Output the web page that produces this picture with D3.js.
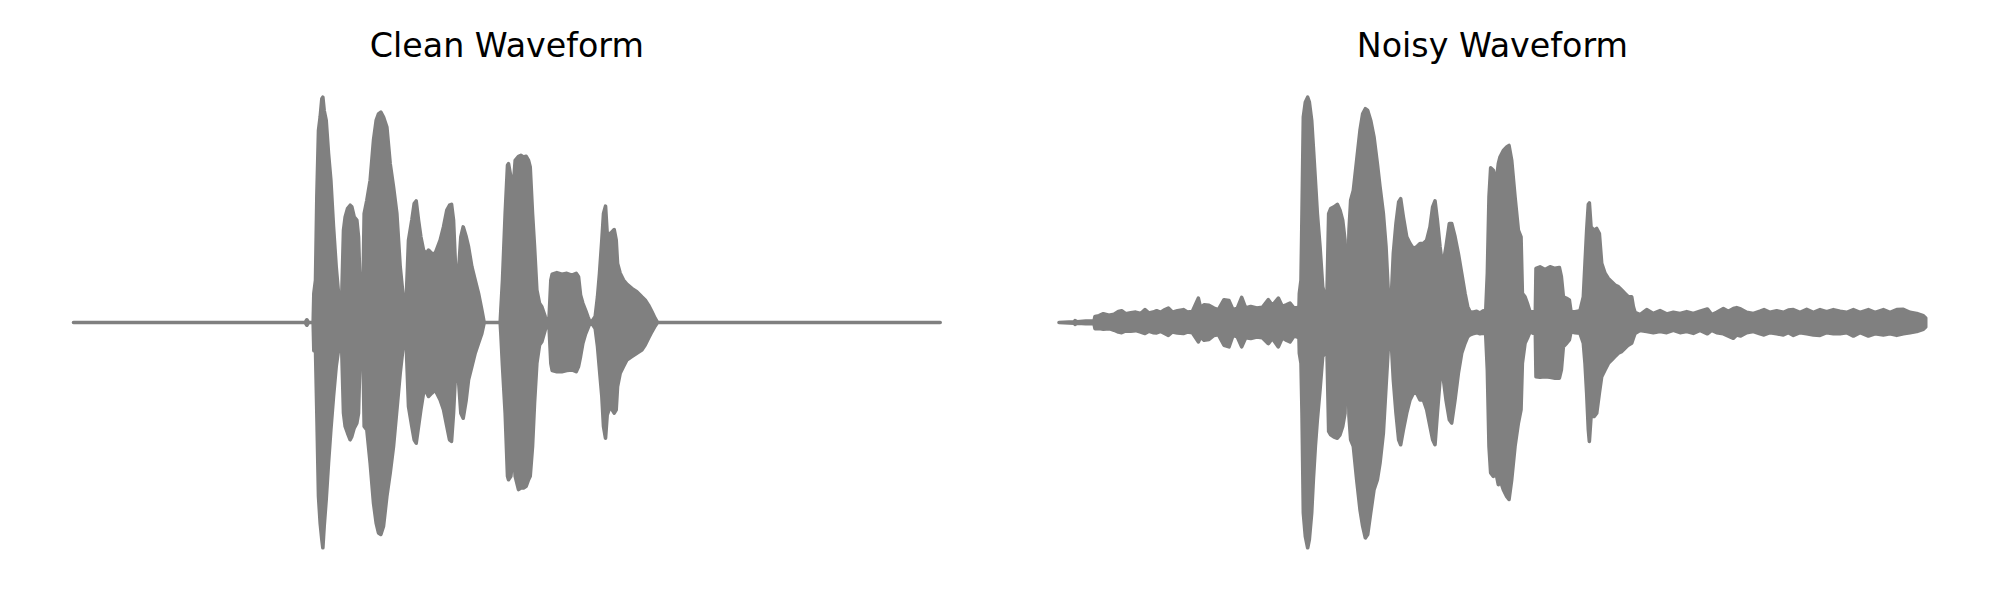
<!DOCTYPE html>
<html><head><meta charset="utf-8">
<script src="https://cdn.jsdelivr.net/npm/d3@7"></script>
<style>html,body{margin:0;padding:0;background:#fff;} svg{display:block;}</style>
</head><body>
<svg id="chart" width="2000" height="600"></svg>
<script>
// ---- data (time in ms, amplitude normalised to peak = 1) ----
const titles = ["Clean Waveform", "Noisy Waveform"];
const timeExtent = [0, 2600];
const ampExtent = [-1, 1];

const cleanTime = [0,695,700,705,719,721,726,730,735,740,745,748,752,758,765,772,780,788,795,800,
  805,810,815,822,830,835,842,850,855,859,863,868,872,880,890,900,908,915,922,930,940,950,960,970,980,990,995,
  998,1005,1015,1022,1028,1035,1042,1050,1058,1065,1075,1085,1100,1110,1120,1128,1134,1140,1146,1155,1162,1169,1178,1185,1195,1205,1215,1225,1232,
  1280,1282,1287,1295,1302,1305,1312,1320,1325,1335,1342,1350,1358,1365,1370,1377,1383,1390,1398,1405,1415,1423,
  1426,1432,1436,1450,1465,1480,1495,1508,1515,1521,1528,1536,1543,1550,
  1558,1565,1572,1578,1585,1590,1596,1601,1610,1622,1628,1632,1640,1650,1660,1675,1690,1705,1715,1725,1735,1745,1752,2600];
const cleanUpper = [0,0,0.012,0,0,0.129,0.188,0.557,0.852,0.911,0.992,0.999,0.940,0.896,0.749,0.631,0.424,0.247,0.129,0.107,
  0.129,0.409,0.468,0.505,0.520,0.513,0.468,0.454,0.380,0.188,0.100,0.114,0.483,0.542,0.631,0.808,0.896,0.925,0.933,0.911,0.867,0.704,0.601,0.483,0.247,0.100,0.055,
  0.100,0.365,0.454,0.527,0.539,0.454,0.380,0.321,0.306,0.321,0.306,0.306,0.365,0.424,0.498,0.520,0.524,0.454,0.247,0.225,0.380,0.424,0.380,0.336,0.247,0.188,0.129,0.055,0,
  0,0.055,0.188,0.483,0.697,0.704,0.645,0.616,0.719,0.737,0.741,0.734,0.737,0.719,0.690,0.483,0.336,0.144,0.085,0.070,0.026,0,
  0,0.188,0.214,0.221,0.214,0.218,0.210,0.218,0.203,0.122,0.085,0.055,0.026,0,
  0.011,0.026,0.114,0.218,0.365,0.483,0.516,0.394,0.394,0.412,0.365,0.262,0.218,0.188,0.170,0.151,0.136,0.114,0.100,0.077,0.048,0.018,0,0];
const cleanLower = [0,0,-0.012,0,0,-0.125,-0.122,-0.402,-0.771,-0.889,-0.962,-0.999,-0.903,-0.785,-0.623,-0.476,-0.328,-0.195,-0.122,-0.107,
  -0.136,-0.402,-0.461,-0.490,-0.520,-0.505,-0.468,-0.446,-0.402,-0.181,-0.092,-0.107,-0.461,-0.476,-0.623,-0.800,-0.889,-0.933,-0.940,-0.903,-0.771,-0.667,-0.549,-0.387,-0.225,-0.092,-0.063,
  -0.092,-0.372,-0.461,-0.520,-0.535,-0.461,-0.387,-0.313,-0.306,-0.328,-0.313,-0.299,-0.343,-0.387,-0.461,-0.520,-0.527,-0.402,-0.225,-0.254,-0.402,-0.424,-0.343,-0.254,-0.195,-0.136,-0.092,-0.048,0,
  0,-0.048,-0.195,-0.402,-0.682,-0.697,-0.682,-0.564,-0.682,-0.741,-0.734,-0.734,-0.726,-0.697,-0.682,-0.549,-0.358,-0.181,-0.100,-0.085,-0.033,0,
  0,-0.181,-0.213,-0.218,-0.218,-0.213,-0.210,-0.218,-0.195,-0.151,-0.092,-0.051,-0.026,0,
  -0.011,-0.026,-0.107,-0.210,-0.328,-0.461,-0.513,-0.410,-0.372,-0.402,-0.387,-0.284,-0.225,-0.195,-0.166,-0.151,-0.136,-0.122,-0.100,-0.070,-0.041,-0.015,0,0];

const noisyTime = [0,45,48,55,80,105,108,120,133,150,165,178,188,200,215,230,245,258,270,282,293,305,318,328,340,355,373,385,400,
  418,425,435,450,465,478,495,510,522,535,548,560,575,593,610,628,640,658,670,683,693,705,715,720,
  721,726,729,733,739,746,751,758,763,769,775,783,791,798,804,
  809,815,825,835,843,851,858,862,866,
  870,875,883,893,903,911,919,926,935,945,955,963,973,981,988,993,997,
  1003,1011,1019,1025,1033,1043,1053,1063,1073,1083,1093,1103,1113,1121,1128,1135,1143,1151,1161,1171,1178,1188,1198,1208,1218,1226,1233,
  1241,1253,1263,1273,1280,
  1285,1290,1295,1303,1311,1318,1323,1333,1343,1350,1358,1368,1378,1386,1390,1398,1405,1413,1423,1429,
  1431,1443,1458,1473,1488,1501,1507,1513,1523,1531,1536,1548,1563,
  1573,1578,1583,1588,1591,1596,1605,1613,1621,1628,1638,1648,1658,1668,1678,1688,1698,1708,1718,1723,1728,
  1743,1763,1783,1803,1823,1843,1863,1883,1903,1923,1945,1958,1973,1993,2008,2023,2033,2045,2063,2083,2103,2115,2133,2153,2173,2188,2203,
  2223,2243,2263,2283,2303,2323,2343,2363,2383,2403,2428,2448,2473,2493,2513,2533,2553,2573,2593,2600];
const noisyUpper = [0,0.003,0.008,0.003,0.006,0.006,0.027,0.030,0.039,0.032,0.037,0.049,0.052,0.039,0.043,0.046,0.040,0.057,0.042,0.046,0.052,0.045,0.057,0.064,0.046,0.052,0.057,0.046,0.049,
  0.108,0.064,0.079,0.076,0.064,0.057,0.101,0.097,0.057,0.064,0.111,0.064,0.071,0.064,0.067,0.101,0.076,0.108,0.071,0.079,0.086,0.064,0.067,0.070,
  0.129,0.188,0.483,0.911,0.977,0.999,0.977,0.896,0.778,0.631,0.483,0.336,0.159,0.114,0.129,
  0.483,0.505,0.513,0.524,0.498,0.454,0.365,0.129,0.114,
  0.409,0.542,0.586,0.719,0.852,0.925,0.948,0.940,0.896,0.822,0.704,0.601,0.483,0.336,0.129,0.100,0.114,
  0.306,0.439,0.535,0.549,0.468,0.380,0.350,0.328,0.336,0.350,0.350,0.365,0.424,0.513,0.539,0.454,0.336,0.247,0.336,0.439,0.439,0.380,0.306,0.218,0.129,0.070,0.048,
  0.045,0.050,0.042,0.052,0.045,
  0.217,0.557,0.686,0.675,0.616,0.704,0.734,0.763,0.778,0.785,0.719,0.557,0.409,0.380,0.129,0.114,0.085,0.048,0.048,0.048,
  0.240,0.247,0.235,0.247,0.240,0.244,0.203,0.114,0.107,0.100,0.048,0.048,0.052,
  0.114,0.262,0.409,0.524,0.530,0.424,0.409,0.417,0.394,0.262,0.218,0.195,0.181,0.166,0.159,0.144,0.129,0.114,0.114,0.070,0.045,
  0.035,0.057,0.040,0.053,0.038,0.045,0.040,0.048,0.040,0.050,0.060,0.035,0.045,0.062,0.050,0.062,0.066,0.060,0.045,0.040,0.050,0.057,0.045,0.052,0.045,0.055,0.057,
  0.045,0.058,0.045,0.057,0.048,0.057,0.050,0.045,0.057,0.045,0.057,0.045,0.057,0.045,0.057,0.058,0.045,0.040,0.030,0.020];
const noisyLower = [0,-0.003,-0.008,-0.003,-0.005,-0.005,-0.027,-0.027,-0.030,-0.027,-0.034,-0.042,-0.045,-0.037,-0.039,-0.036,-0.042,-0.049,-0.039,-0.045,-0.046,-0.039,-0.049,-0.057,-0.042,-0.046,-0.049,-0.042,-0.045,
  -0.086,-0.064,-0.079,-0.075,-0.057,-0.054,-0.101,-0.108,-0.057,-0.064,-0.108,-0.068,-0.071,-0.064,-0.068,-0.094,-0.071,-0.108,-0.068,-0.079,-0.086,-0.060,-0.064,-0.070,
  -0.136,-0.181,-0.402,-0.844,-0.948,-0.999,-0.962,-0.844,-0.697,-0.549,-0.431,-0.299,-0.151,-0.136,-0.129,
  -0.483,-0.498,-0.508,-0.513,-0.498,-0.461,-0.402,-0.151,-0.136,
  -0.417,-0.520,-0.549,-0.697,-0.830,-0.903,-0.955,-0.940,-0.844,-0.741,-0.697,-0.623,-0.490,-0.284,-0.107,-0.077,-0.092,
  -0.254,-0.402,-0.520,-0.542,-0.476,-0.402,-0.343,-0.313,-0.313,-0.343,-0.343,-0.387,-0.461,-0.520,-0.542,-0.402,-0.254,-0.225,-0.343,-0.431,-0.446,-0.343,-0.225,-0.136,-0.092,-0.063,-0.055,
  -0.050,-0.045,-0.050,-0.048,-0.050,
  -0.210,-0.549,-0.667,-0.682,-0.667,-0.719,-0.697,-0.741,-0.771,-0.785,-0.697,-0.549,-0.446,-0.387,-0.181,-0.092,-0.070,-0.041,-0.048,-0.048,
  -0.240,-0.243,-0.240,-0.243,-0.247,-0.247,-0.210,-0.107,-0.092,-0.077,-0.041,-0.045,-0.048,
  -0.092,-0.181,-0.313,-0.476,-0.527,-0.417,-0.417,-0.402,-0.313,-0.240,-0.210,-0.181,-0.166,-0.151,-0.136,-0.129,-0.114,-0.100,-0.092,-0.070,-0.048,
  -0.035,-0.040,-0.045,-0.040,-0.045,-0.035,-0.045,-0.040,-0.048,-0.035,-0.050,-0.035,-0.045,-0.050,-0.060,-0.070,-0.055,-0.060,-0.045,-0.040,-0.050,-0.055,-0.045,-0.050,-0.055,-0.045,-0.057,
  -0.045,-0.050,-0.055,-0.057,-0.045,-0.050,-0.050,-0.045,-0.060,-0.045,-0.060,-0.050,-0.055,-0.050,-0.057,-0.050,-0.045,-0.040,-0.030,-0.020];

// ---- drawing ----
const W = 2000, H = 600;
const waveColor = "#808080";
const svg = d3.select("#chart");
svg.append("rect").attr("width", W).attr("height", H).attr("fill", "#fff");

const panels = [
  {title: titles[0], time: cleanTime, up: cleanUpper, lo: cleanLower, range: [73.5, 940.2]},
  {title: titles[1], time: noisyTime, up: noisyUpper, lo: noisyLower, range: [1059, 1925.7]}
];
const y = d3.scaleLinear().domain(ampExtent).range([548, 97]);

panels.forEach(p => {
  const x = d3.scaleLinear().domain(timeExtent).range(p.range);
  const data = p.time.map((t, i) => ({t: t, u: p.up[i], l: p.lo[i]}));
  const area = d3.area().x(d => x(d.t)).y0(d => y(d.l)).y1(d => y(d.u));
  svg.append("path").datum(data)
    .attr("d", area)
    .attr("fill", waveColor)
    .attr("stroke", waveColor)
    .attr("stroke-width", 3.6)
    .attr("stroke-linejoin", "round");
  svg.append("text")
    .attr("x", (p.range[0] + p.range[1]) / 2)
    .attr("y", 57)
    .attr("text-anchor", "middle")
    .attr("font-family", "DejaVu Sans")
    .attr("font-size", "33.3px")
    .attr("fill", "#000")
    .text(p.title);
});
</script>
</body></html>
